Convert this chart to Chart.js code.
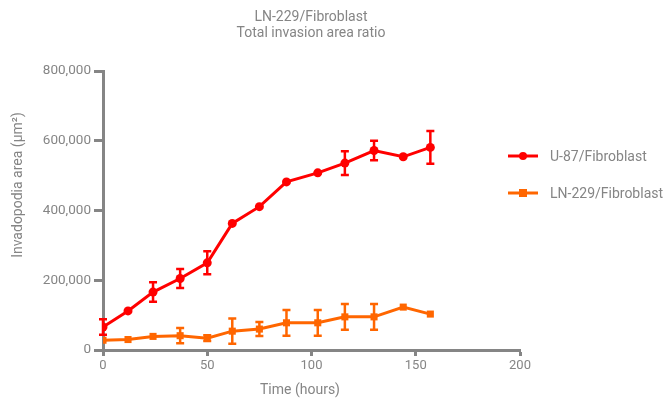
<!DOCTYPE html>
<html>
<head>
<meta charset="utf-8">
<script src="https://cdn.jsdelivr.net/npm/chart.js@4/dist/chart.umd.min.js"></script>
<style>
  html, body { margin: 0; padding: 0; background: #fff; }
  #wrap { width: 665px; height: 398px; }
</style>
</head>
<body>
<div id="wrap"><canvas id="chart" width="665" height="398"></canvas></div>
<script>
// time points (hours)
const times = [0, 12, 24, 37, 50, 62, 75, 88, 103, 116, 130, 144, 157];

// U-87/Fibroblast
const u87Values = [66000, 112000, 166000, 205000, 250000, 363000, 411000, 482000, 508000, 536000, 572000, 554000, 581000];
const u87Errors = [22000, 0, 28000, 27000, 33000, 0, 0, 0, 0, 34000, 28000, 0, 47000];

// LN-229/Fibroblast
const ln229Values = [28000, 30000, 39000, 41000, 34000, 54000, 60000, 78000, 78000, 95000, 95000, 123000, 103000];
const ln229Errors = [0, 0, 0, 22000, 8000, 36000, 20000, 37000, 37000, 37000, 37000, 0, 0];

const xTicks = [0, 50, 100, 150, 200];
const yTicks = [0, 200000, 400000, 600000, 800000];

const titleLines = ["LN-229/Fibroblast", "Total invasion area ratio"];
const xTitle = "Time (hours)";
const yTitle = "Invadopodia area (μm²)";

const GREY = "#858585";
const RED = "#ff0000";
const ORANGE = "#ff6600";
const FONT = "Roboto";

function toPoints(xs, ys) {
  return xs.map((x, i) => ({ x: x, y: ys[i] }));
}

// error bars drawn from the dataset's own scale, plus titles and legend
const errorBars = {
  id: "errorBars",
  beforeDatasetsDraw(chart) {
    const { ctx, scales: { y } } = chart;
    ctx.save();
    chart.data.datasets.forEach((ds, di) => {
      const meta = chart.getDatasetMeta(di);
      ctx.strokeStyle = ds.borderColor;
      ctx.lineWidth = 2.5;
      meta.data.forEach((pt, i) => {
        const e = ds.errors[i];
        if (!e) return;
        const v = ds.data[i].y;
        const top = y.getPixelForValue(v + e);
        const bot = y.getPixelForValue(v - e);
        ctx.beginPath();
        ctx.moveTo(pt.x, top);
        ctx.lineTo(pt.x, bot);
        ctx.moveTo(pt.x - 4, top);
        ctx.lineTo(pt.x + 4, top);
        ctx.moveTo(pt.x - 4, bot);
        ctx.lineTo(pt.x + 4, bot);
        ctx.stroke();
      });
    });
    ctx.restore();
  },
  afterDraw(chart) {
    const { ctx } = chart;
    ctx.save();
    ctx.fillStyle = GREY;
    ctx.textBaseline = "middle";
    ctx.textAlign = "center";

    // title
    ctx.font = `14px ${FONT}`;
    ctx.fillText(titleLines[0], 311, 17);
    ctx.fillText(titleLines[1], 311, 33);

    // axis titles
    ctx.fillText(xTitle, 300, 390);
    ctx.save();
    ctx.translate(18, 185);
    ctx.rotate(-Math.PI / 2);
    ctx.fillText(yTitle, 0, 0);
    ctx.restore();

    // legend with line + marker
    const rows = [156, 193];
    chart.data.datasets.forEach((ds, di) => {
      const yy = rows[di];
      ctx.strokeStyle = ds.borderColor;
      ctx.fillStyle = ds.borderColor;
      ctx.lineWidth = 3;
      ctx.beginPath();
      ctx.moveTo(508, yy);
      ctx.lineTo(538, yy);
      ctx.stroke();
      if (ds.pointStyle === "rect") {
        ctx.fillRect(519, yy - 4, 8, 8);
      } else {
        ctx.beginPath();
        ctx.arc(523, yy, 4, 0, Math.PI * 2);
        ctx.fill();
      }
      ctx.fillStyle = GREY;
      ctx.textAlign = "left";
      ctx.fillText(ds.label, 550, yy + 1);
    });
    ctx.restore();
  }
};

const config = {
  type: "line",
  data: {
    datasets: [
      {
        label: "U-87/Fibroblast",
        data: toPoints(times, u87Values),
        errors: u87Errors,
        borderColor: RED,
        backgroundColor: RED,
        borderWidth: 3,
        pointStyle: "circle",
        pointRadius: 4.5,
        pointBorderWidth: 0,
        tension: 0,
      },
      {
        label: "LN-229/Fibroblast",
        data: toPoints(times, ln229Values),
        errors: ln229Errors,
        borderColor: ORANGE,
        backgroundColor: ORANGE,
        borderWidth: 3,
        pointStyle: "rect",
        pointRadius: 5,
        pointBorderWidth: 0,
        tension: 0,
      },
    ],
  },
  options: {
    responsive: false,
    animation: false,
    layout: { padding: { left: 0, right: 145, top: 71, bottom: 0 } },
    plugins: {
      legend: { display: false },
      tooltip: { enabled: false },
      title: { display: false },
    },
    scales: {
      x: {
        type: "linear",
        min: 0,
        max: 200,
        afterBuildTicks: (s) => { s.ticks = xTicks.map((v) => ({ value: v })); },
        afterFit: (s) => { s.height = 48; },
        border: { color: GREY, width: 3 },
        grid: { drawOnChartArea: false, drawTicks: true, tickLength: 6, tickWidth: 3, tickColor: GREY },
        ticks: { color: GREY, padding: 2, font: { family: FONT, size: 13 } },
      },
      y: {
        min: 0,
        max: 800000,
        afterBuildTicks: (s) => { s.ticks = yTicks.map((v) => ({ value: v })); },
        afterFit: (s) => { s.width = 103; },
        border: { color: GREY, width: 3 },
        grid: { drawOnChartArea: false, drawTicks: true, tickLength: 9, tickWidth: 3, tickColor: GREY },
        ticks: {
          color: GREY,
          padding: 3,
          font: { family: FONT, size: 13.5 },
          callback: (v) => v.toLocaleString("en-US"),
        },
      },
    },
  },
  plugins: [errorBars],
};

const myChart = new Chart(document.getElementById("chart"), config);
</script>
</body>
</html>
